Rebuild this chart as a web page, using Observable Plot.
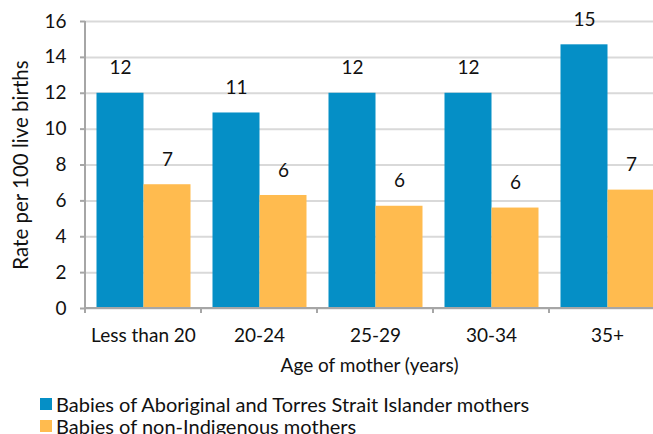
<!DOCTYPE html>
<html>
<head>
<meta charset="utf-8">
<script src="https://cdn.jsdelivr.net/npm/d3@7"></script>
<script src="https://cdn.jsdelivr.net/npm/@observablehq/plot@0.6"></script>
<style>
  html, body { margin: 0; padding: 0; background: #fff; overflow: hidden; width: 653px; height: 434px; }
  body { position: relative; font-family: Lato, "Open Sans", sans-serif; }
  #title { position: absolute; left: -1px; top: -18px; font-size: 20px; color: #be4b31; white-space: nowrap; }
  #chart { position: absolute; left: 0; top: 0; }
  #legend { position: absolute; left: 40px; top: 393px; font-size: 20px; color: #111; line-height: 22px; }
  .li { display: flex; align-items: center; white-space: nowrap; height: 22px; }
  .sw { width: 12px; height: 12px; margin-right: 4px; display: inline-block; flex: none; }
</style>
</head>
<body>
<div id="title">Figure 7: Low weight babies at birth, by age of mother</div>
<div id="chart"></div>
<div id="legend"></div>
<script>
const ages = ["Less than 20", "20-24", "25-29", "30-34", "35+"];
const aboriginal = [12.0, 10.9, 12.0, 12.0, 14.7];
const nonIndigenous = [6.9, 6.3, 5.7, 5.6, 6.6];
const seriesNames = ["Babies of Aboriginal and Torres Strait Islander mothers", "Babies of non-Indigenous mothers"];
const seriesColors = ["#058fc6", "#ffbb4f"];
const yTicks = [0, 2, 4, 6, 8, 10, 12, 14, 16];
const yLabel = "Rate per 100 live births";
const xLabel = "Age of mother (years)";

const blue = ages.map((a, i) => ({age: a, value: aboriginal[i]}));
const orange = ages.map((a, i) => ({age: a, value: nonIndigenous[i]}));
const fmt = d3.format(".0f");
const axisColor = "#a6a6a6";

function axisLines(index, scales, values, dims) {
  const g = d3.create("svg:g").attr("stroke", axisColor).attr("stroke-width", 2);
  const x0 = dims.marginLeft, yb = dims.height - dims.marginBottom;
  g.append("line").attr("x1", x0).attr("x2", x0).attr("y1", dims.marginTop).attr("y2", yb + 5);
  g.append("line").attr("x1", x0).attr("x2", dims.width).attr("y1", yb).attr("y2", yb);
  for (const a of ages.slice(1)) {
    const xx = scales.x(a);
    g.append("line").attr("x1", xx).attr("x2", xx).attr("y1", yb).attr("y2", yb + 5);
  }
  return g.node();
}

const chart = Plot.plot({
  width: 653,
  height: 385,
  marginLeft: 85,
  marginRight: 0,
  marginTop: 21,
  marginBottom: 77,
  style: {fontFamily: "Lato, sans-serif", fontSize: "19px", color: "#111", background: "#fff"},
  x: {domain: ages, range: [85, 665], padding: 0, label: null},
  y: {domain: [0, 16], label: null},
  marks: [
    Plot.gridY(yTicks, {stroke: "#d9d9d9", strokeOpacity: 1, strokeWidth: 2}),
    Plot.barY(blue, {x: "age", y: "value", fill: seriesColors[0], insetLeft: 11.5, insetRight: 57.5}),
    Plot.barY(orange, {x: "age", y: "value", fill: seriesColors[1], insetLeft: 58.5, insetRight: 10.5}),
    Plot.text(blue, {x: "age", y: "value", text: d => fmt(d.value), dx: -23, dy: -25, fontSize: 19, fill: "#111"}),
    Plot.text(orange, {x: "age", y: "value", text: d => fmt(d.value), dx: 24, dy: -25, fontSize: 19, fill: "#111"}),
    Plot.axisY({ticks: yTicks, tickSize: 5, tickPadding: 14, stroke: axisColor, strokeWidth: 2, label: null, fontSize: 19}),
    Plot.axisX({tickSize: 0, tickPadding: 20, label: null, fontSize: 19}),
    axisLines,
    Plot.text([yLabel], {frameAnchor: "left", textAnchor: "middle", lineAnchor: "middle", rotate: -90, dx: -64, fontSize: 20.5, fill: "#111"}),
    Plot.text([xLabel], {frameAnchor: "bottom", lineAnchor: "middle", dy: 57, fontSize: 19, fill: "#111"})
  ]
});
document.getElementById("chart").appendChild(chart);

const legend = document.getElementById("legend");
seriesNames.forEach((n, i) => {
  const row = document.createElement("div");
  row.className = "li";
  const sw = document.createElement("span");
  sw.className = "sw";
  sw.style.background = seriesColors[i];
  row.appendChild(sw);
  row.appendChild(document.createTextNode(n));
  legend.appendChild(row);
});
</script>
</body>
</html>
